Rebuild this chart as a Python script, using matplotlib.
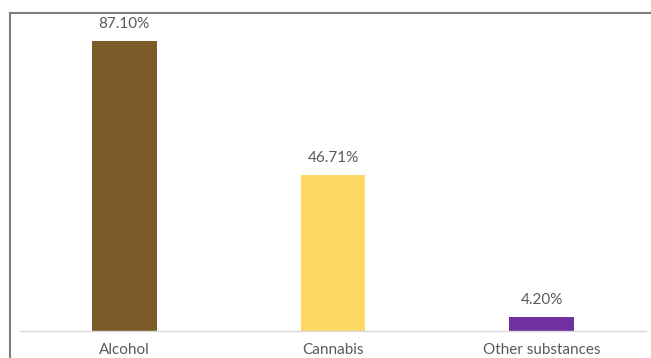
import matplotlib.pyplot as plt
from matplotlib.lines import Line2D

categories = ['Alcohol', 'Cannabis', 'Other substances']
values = [87.10, 46.71, 4.20]
labels = ['87.10%', '46.71%', '4.20%']
colors = ['#7B5C28', '#FDD865', '#7030A0']

plt.rcParams['font.family'] = ['Lato', 'DejaVu Sans']

W, H = 651, 358
fig = plt.figure(figsize=(W / 100, H / 100), dpi=100)
ax = fig.add_axes([20 / W, 1 - 331 / H, 626 / W, (331 - 20) / H])

x = range(len(categories))
bars = ax.bar(x, values, width=0.31, color=colors)
for b, lab in zip(bars, labels):
    ax.text(b.get_x() + b.get_width() / 2, b.get_height() + 3.0, lab,
            ha='center', va='bottom', fontsize=11, color='#595959')

ax.set_xlim(-0.5, 2.5)
ax.set_ylim(0, (331 - 20) / 3.33)
ax.set_xticks(list(x))
ax.set_xticklabels(categories, fontsize=11, color='#595959')
ax.tick_params(axis='x', length=0, pad=9)
ax.set_yticks([])
for s in ['top', 'right', 'left']:
    ax.spines[s].set_visible(False)
ax.spines['bottom'].set_color('#D9D9D9')
ax.spines['bottom'].set_linewidth(1.0)

# outer frame (left and top edges)
fig.add_artist(Line2D([10 / W, 10 / W], [0, 1 - 13 / H], color='#7F7F7F', lw=1.5,
                      transform=fig.transFigure))
fig.add_artist(Line2D([10 / W, 1], [1 - 13 / H, 1 - 13 / H], color='#7F7F7F', lw=1.5,
                      transform=fig.transFigure))

fig.savefig('out.png', dpi=100)
